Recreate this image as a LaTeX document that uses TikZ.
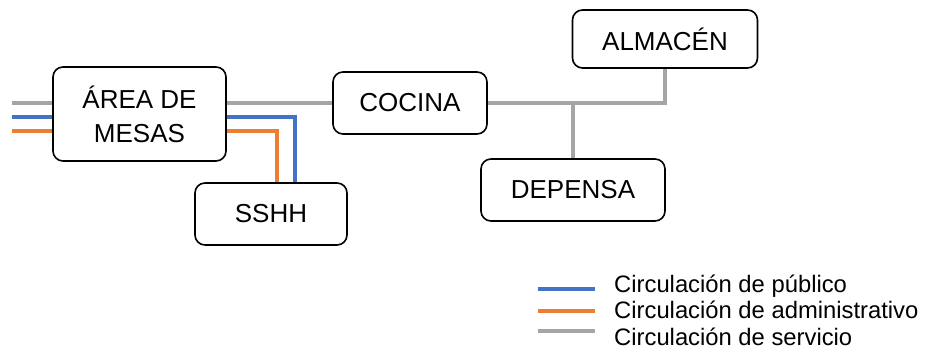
\documentclass[tikz,border=0pt]{standalone}
\usepackage{fontspec}
\setmainfont{Liberation Sans}
\usepackage{tikz}
\usetikzlibrary{
  positioning,
  calc,
}
\definecolor{pubCol}{HTML}{4472C4}
\definecolor{admCol}{HTML}{ED7D31}
\definecolor{serCol}{HTML}{A5A5A5}
\tikzset{
  roomBox/.style={
    rectangle, rounded corners=10pt, draw=black, line width=1.6pt,
    fill=white, inner sep=4pt, align=center,
    font=\fontsize{26}{34}\selectfont,
  },
  circPub/.style={draw=pubCol, line width=3.5pt},
  circAdm/.style={draw=admCol, line width=3.5pt},
  circSer/.style={draw=serCol, line width=3.5pt},
  legText/.style={
    anchor=base west, inner sep=0pt, font=\fontsize{23.8}{26}\selectfont,
  },
}

\begin{document}
\begin{tikzpicture}[x=1pt, y=-1pt]
\useasboundingbox (0,0) rectangle (926,352);

% rooms
\node[roomBox, minimum width=173pt, minimum height=94pt] (mesas) at (139.5,114)
  {ÁREA DE\\MESAS};
\node[roomBox, minimum width=152pt, minimum height=62pt] (sshh) at (271,214) {SSHH};
\node[roomBox, minimum width=154pt, minimum height=62pt] (cocina) at (410,103) {COCINA};
\node[roomBox, minimum width=185pt, minimum height=58pt] (almacen) at (665,39) {ALMACÉN};
\node[roomBox, minimum width=184pt, minimum height=62pt] (depensa) at (573,190) {DEPENSA};

% incoming circulation (left edge)
\coordinate (inSer) at (12,103);
\coordinate (inPub) at (12,117);
\coordinate (inAdm) at (12,131);
\coordinate (sshhPub) at ($(sshh.north)+(24,0)$);
\coordinate (sshhAdm) at ($(sshh.north)+(6,0)$);

% servicio
\draw[circSer] (inSer) -- (inSer -| mesas.west);
\draw[circSer] (mesas.east |- inSer) -- (cocina.west);
\draw[circSer] (cocina.east) -| (almacen.south);
\draw[circSer] (depensa.north) -- (depensa.north |- cocina.east);

% publico
\draw[circPub] (inPub) -- (inPub -| mesas.west);
\draw[circPub] (mesas.east |- inPub) -| (sshhPub);

% administrativo
\draw[circAdm] (inAdm) -- (inAdm -| mesas.west);
\draw[circAdm] (mesas.east |- inAdm) -| (sshhAdm);

% legend
\coordinate (keyPub) at (538,289);
\coordinate (keyAdm) at (538,311);
\coordinate (keySer) at (538,331);
\draw[circPub] (keyPub) -- ++(57,0);
\draw[circAdm] (keyAdm) -- ++(57,0);
\draw[circSer] (keySer) -- ++(57,0);
\node[legText] (legPub) at (614,293) {Circulación de público};
\node[legText] (legAdm) at (614,319) {Circulación de administrativo};
\node[legText] (legSer) at (614,345) {Circulación de servicio};

\end{tikzpicture}
\end{document}
